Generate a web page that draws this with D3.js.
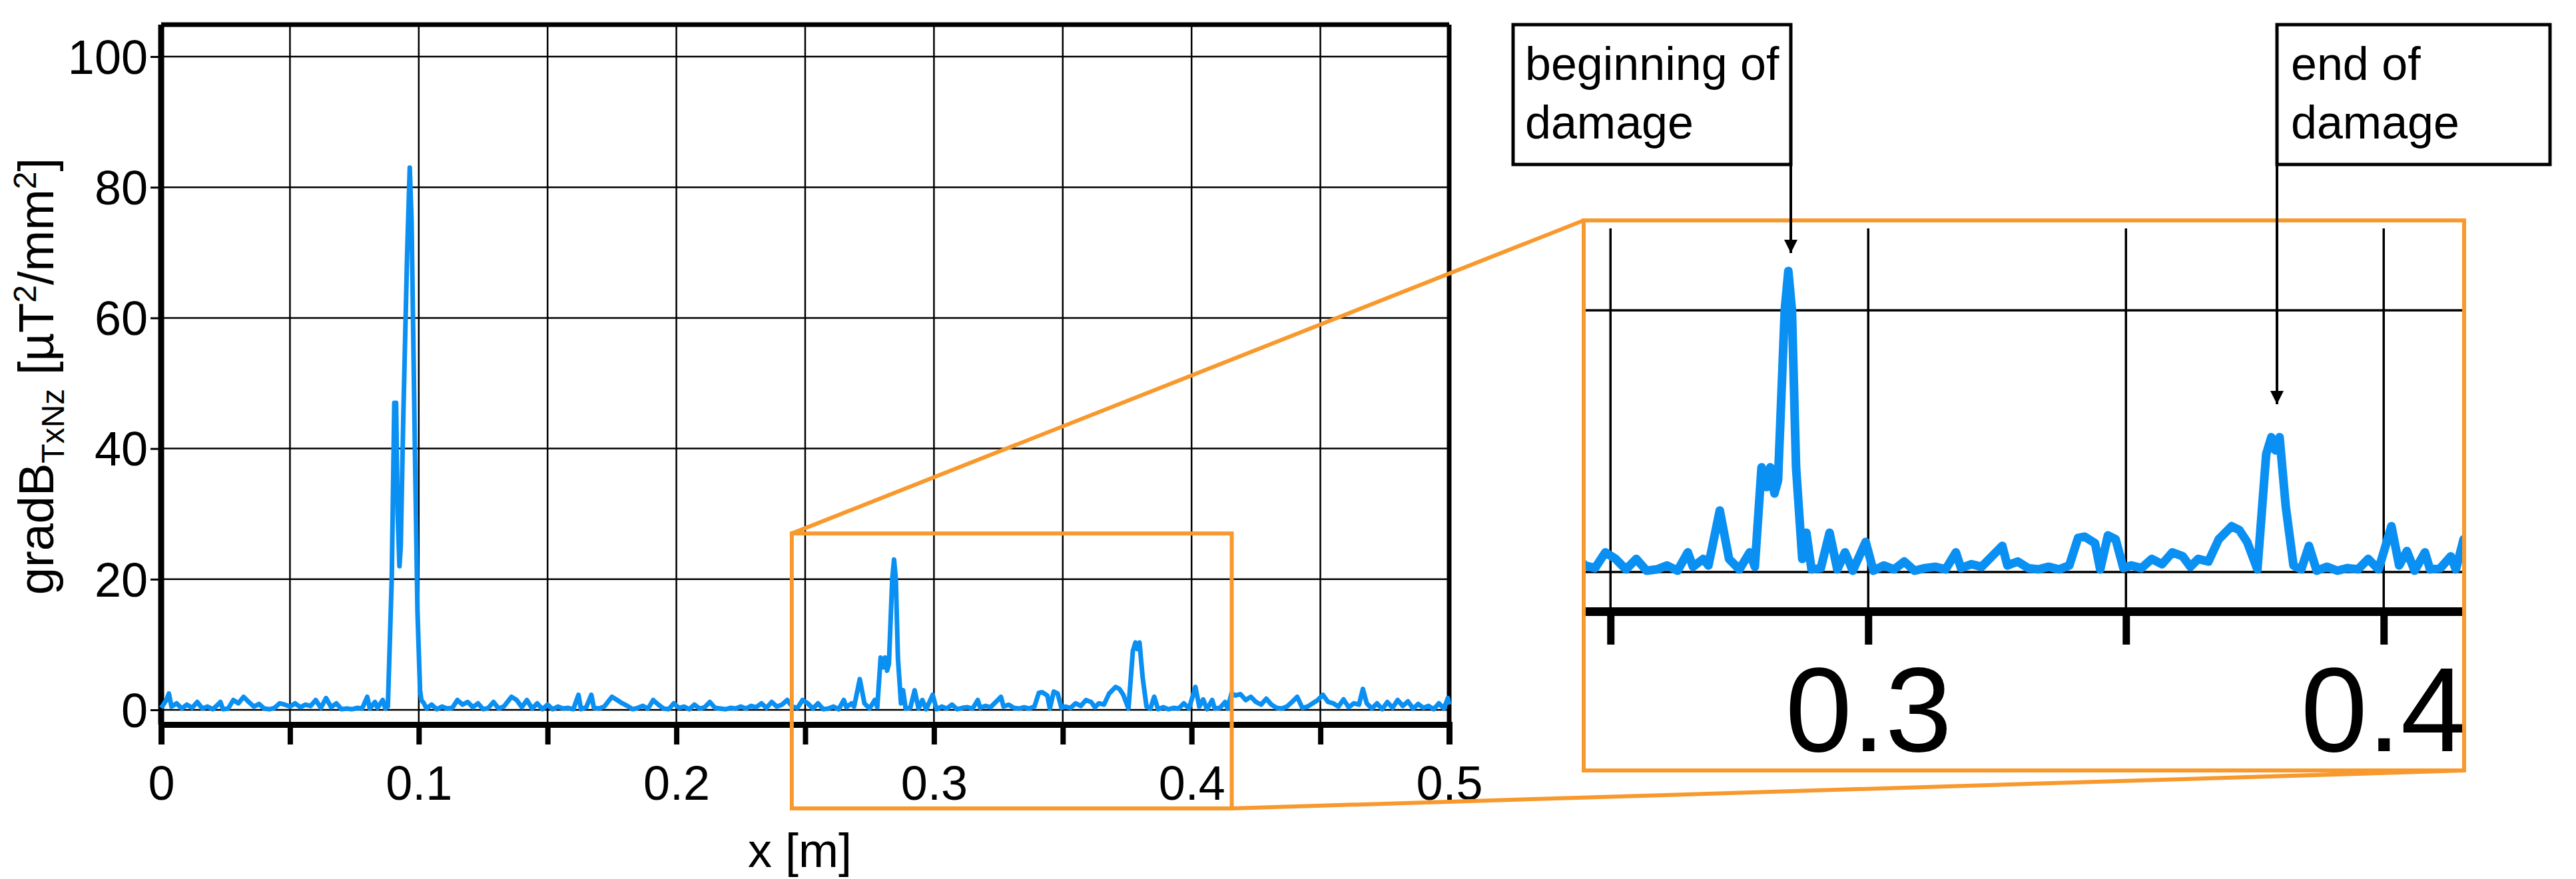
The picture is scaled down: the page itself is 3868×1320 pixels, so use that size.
<!DOCTYPE html>
<html><head><meta charset="utf-8">
<script src="https://cdn.jsdelivr.net/npm/d3@7"></script>
<style>body{margin:0;background:#fff}</style>
</head><body>
<svg id="c" width="3868" height="1320"></svg>
<script>
const xTicks = [0,0.1,0.2,0.3,0.4,0.5];
const xGrid = [0,0.05,0.1,0.15,0.2,0.25,0.3,0.35,0.4,0.45,0.5];
const yTicks = [0,20,40,60,80,100];
const insetTicks = [0.25,0.3,0.35,0.4];
const insetLabels = [0.3,0.4];
const insetGridY = [0,20];
const zoomRange = [0.2448,0.4156];
const zoomTop = 27;
const annotations = [
  {lines:["beginning of","damage"], x:0.2845},
  {lines:["end of","damage"], x:0.3795}
];
const profile = [[0,0.3],[0.002,1.5],[0.003,2.5],[0.004,0.5],[0.006,1],[0.008,0.2],[0.01,0.8],[0.012,0.3],[0.014,1.2],[0.016,0.2],[0.018,0.5],[0.02,0.1],[0.022,0.8],[0.023,1.2],[0.024,0.1],[0.026,0.2],[0.028,1.5],[0.03,1],[0.032,2],[0.034,1.2],[0.036,0.5],[0.038,0.9],[0.04,0.2],[0.042,0.1],[0.044,0.3],[0.046,1],[0.048,0.8],[0.05,0.5],[0.052,1],[0.054,0.4],[0.056,0.8],[0.058,0.6],[0.06,1.5],[0.062,0.3],[0.064,1.8],[0.066,0.4],[0.068,1],[0.07,0.1],[0.072,0.2],[0.074,0.1],[0.076,0.3],[0.078,0.2],[0.08,2],[0.081,0.2],[0.083,1.2],[0.084,0.3],[0.086,1.5],[0.087,0.2],[0.088,0.5],
[0.0895,20],[0.0905,47],[0.0912,47],[0.0918,30],[0.0925,22],[0.093,25],[0.094,45],[0.0955,70],[0.0965,83],[0.0972,75],[0.0985,40],[0.0995,15],[0.1005,3],[0.101,1.5],[0.102,1],[0.103,0.2],[0.105,0.8],[0.107,0.1],
[0.109,0.5],[0.111,0.2],[0.113,0.3],[0.115,1.5],[0.117,0.8],[0.119,1.2],[0.121,0.4],[0.123,1],[0.125,0.1],[0.127,0.3],[0.129,1.2],[0.131,0.2],[0.133,0.5],[0.136,2],[0.138,1.5],[0.14,0.4],[0.142,1.5],[0.144,0.2],[0.146,1],[0.148,0.1],[0.15,0.8],[0.152,0.1],[0.154,0.5],[0.156,0.2],[0.158,0.3],[0.16,0.1],[0.162,2.3],[0.163,0.1],[0.165,0.4],[0.167,2.3],[0.168,0.3],[0.17,0.2],[0.172,0.5],[0.175,2],[0.177,1.5],[0.179,1],[0.181,0.6],[0.183,0.1],[0.185,0.3],[0.187,0.6],[0.189,0.2],[0.191,1.5],[0.193,0.8],[0.195,0.2],[0.197,0.1],[0.199,1],[0.201,0.3],[0.203,0.5],[0.205,0.1],[0.207,0.8],[0.209,0.2],[0.211,0.4],[0.213,1.2],[0.215,0.3],[0.217,0.2],[0.219,0.1],[0.221,0.3],[0.223,0.2],[0.225,0.5],[0.227,0.2],[0.229,0.6],[0.231,0.4],[0.233,1],[0.235,0.3],[0.237,1.2],[0.239,0.5],[0.241,0.8],[0.243,1.5],[0.245,0.5],
[0.247,0.3],[0.249,1.5],[0.251,1],[0.253,0.2],[0.255,1],[0.257,0.1],[0.259,0.2],[0.261,0.5],[0.263,0.1],[0.265,1.5],[0.266,0.4],[0.268,1],[0.269,0.5],[0.2712,4.7],[0.273,1],[0.275,0.2],[0.277,1.5],[0.278,0.4],[0.2793,8],[0.2803,6.5],[0.281,8],[0.2818,6],[0.2825,7],[0.2838,20],[0.2845,23],[0.2852,20],[0.286,8],[0.2872,1],[0.288,3],[0.289,0.2],[0.2908,0.3],[0.2925,3],[0.294,0.2],[0.2955,1.5],[0.297,0.1],[0.2995,2.3],[0.301,0.1],[0.303,0.5],[0.305,0.2],[0.307,0.8],[0.309,0.1],[0.311,0.3],[0.313,0.4],[0.315,0.2],[0.317,1.5],[0.318,0.3],[0.32,0.6],[0.322,0.4],[0.324,1.2],[0.326,2],[0.327,0.5],[0.329,0.8],[0.331,0.3],[0.333,0.2],[0.335,0.4],[0.337,0.2],[0.339,0.5],[0.3407,2.6],[0.342,2.7],[0.344,2.2],[0.345,0.2],[0.3465,2.8],[0.348,2.5],[0.3495,0.3],[0.351,0.5],[0.353,0.3],[0.355,1],[0.357,0.6],[0.359,1.5],[0.361,1.2],[0.3625,0.4],[0.364,1],[0.366,0.8],[0.368,2.5],[0.3705,3.5],[0.372,3.2],[0.3735,2.3],[0.3755,0.2],[0.3772,9],[0.3782,10.3],[0.379,9.3],[0.3798,10.3],[0.381,5],[0.3825,0.5],[0.384,0.2],[0.3855,2],[0.387,0.1],[0.389,0.4],[0.391,0.1],[0.393,0.3],[0.395,0.2],[0.397,1],[0.399,0.2],[0.4015,3.5],[0.403,0.5],[0.4045,1.6],[0.406,0.1],[0.408,1.5],[0.409,0.2],[0.411,0.3],[0.413,1.2],[0.414,0.2],[0.4155,2.5],[0.417,2.2],[0.419,2.4],[0.421,1.5],[0.423,2],[0.425,1.2],[0.427,0.8],[0.429,1.7],[0.431,0.8],[0.433,0.3],[0.435,0.2],[0.437,0.5],[0.439,1.2],[0.441,2],[0.443,0.3],[0.445,0.5],[0.447,1],[0.449,1.5],[0.451,2.3],[0.453,1.2],[0.455,1],[0.457,0.5],[0.459,1.6],[0.461,0.4],[0.463,1],[0.465,0.8],[0.4665,3.2],[0.468,1],[0.47,0.2],[0.472,1],[0.474,0.1],[0.476,1.2],[0.478,0.3],[0.48,1.5],[0.482,0.6],[0.484,1.3],[0.486,0.2],[0.488,0.9],[0.49,0.3],[0.492,0.6],[0.494,0.1],[0.496,1],[0.498,0.2],[0.4995,1.8],[0.5,0.8]];

const svg = d3.select("#c");
const BLUE="#0a8ff2", ORANGE="#f8992e";
const font="Liberation Sans, Arial, sans-serif";
const narrow="'Liberation Sans Narrow', 'Liberation Sans', sans-serif";

// main
const L=242,R=2176,T=37,B=1088;
const x=d3.scaleLinear().domain([0,0.5]).range([L,R]);
const y=d3.scaleLinear().domain([0,100]).range([1066,85]);
const g=svg.append("g");
g.selectAll(".vg").data(xGrid).join("line").attr("x1",d=>x(d)).attr("x2",d=>x(d)).attr("y1",T).attr("y2",B).attr("stroke","#000").attr("stroke-width",2.5);
g.selectAll(".hg").data(yTicks).join("line").attr("x1",L).attr("x2",R).attr("y1",d=>y(d)).attr("y2",d=>y(d)).attr("stroke","#000").attr("stroke-width",2.5);
const xa=g.append("g").attr("transform",`translate(0,${B})`).call(d3.axisBottom(x).tickValues(xGrid).tickSize(30).tickFormat(d=>xTicks.some(t=>Math.abs(t-d)<1e-9)?d3.format("")(+d.toFixed(2)):""));
xa.select(".domain").attr("stroke-width",9);
xa.selectAll(".tick line").attr("stroke-width",8);
xa.selectAll("text").attr("font-family",font).attr("font-size",72).attr("dy","0.71em").attr("y",62).attr("fill","#000");
const ya=g.append("g").attr("transform",`translate(${L},0)`).call(d3.axisLeft(y).tickValues(yTicks).tickSize(16).tickSizeOuter(0));
ya.select(".domain").attr("d",`M0,${T}V${B}`).attr("stroke-width",9);
ya.selectAll(".tick line").attr("stroke-width",3);
ya.selectAll("text").attr("font-family",font).attr("font-size",72).attr("x",-20).attr("dy","0.35em").attr("fill","#000");
g.append("line").attr("x1",L).attr("x2",R).attr("y1",T).attr("y2",T).attr("stroke","#000").attr("stroke-width",7);
g.append("line").attr("x1",R).attr("x2",R).attr("y1",T).attr("y2",B).attr("stroke","#000").attr("stroke-width",7);

const line=d3.line().x(d=>x(d[0])).y(d=>y(d[1]));
g.append("path").datum(profile).attr("d",line).attr("fill","none").attr("stroke",BLUE).attr("stroke-width",7).attr("stroke-linejoin","round");

g.append("text").attr("x",x(0.25)-8).attr("y",1302).attr("text-anchor","middle").attr("font-family",font).attr("font-size",72).text("x [m]");
const yl=g.append("text").attr("transform","translate(80,565) rotate(-90)").attr("text-anchor","middle").attr("font-family",font).attr("font-size",74);
yl.append("tspan").text("gradB");
yl.append("tspan").attr("font-size",48).attr("dy",16).text("TxNz");
yl.append("tspan").attr("dy",-16).text(" [µT");
yl.append("tspan").attr("font-size",48).attr("dy",-26).text("2");
yl.append("tspan").attr("dy",26).text("/mm");
yl.append("tspan").attr("font-size",48).attr("dy",-26).text("2");
yl.append("tspan").attr("dy",26).text("]");

// inset
const IL=2378,IR=3700,IT=331,IB=1157;
const xi=d3.scaleLinear().domain(zoomRange).range([IL,IR]);
const yi=d3.scaleLinear().domain([0,20]).range([859,466]);
const axisY=918;
const ig=svg.append("g");
ig.append("clipPath").attr("id","ic").append("rect").attr("x",IL).attr("y",IT).attr("width",IR-IL).attr("height",axisY-IT);
ig.selectAll(".ivg").data(insetTicks).join("line").attr("x1",d=>xi(d)).attr("x2",d=>xi(d)).attr("y1",IT+12).attr("y2",axisY).attr("stroke","#000").attr("stroke-width",3.5);
ig.selectAll(".ihg").data(insetGridY).join("line").attr("x1",IL).attr("x2",IR).attr("y1",d=>yi(d)).attr("y2",d=>yi(d)).attr("stroke","#000").attr("stroke-width",3.5);
const ixa=ig.append("g").attr("transform",`translate(0,${axisY})`).call(d3.axisBottom(xi).tickValues(insetTicks).tickSize(50).tickSizeOuter(0).tickFormat(d=>insetLabels.includes(d)?d3.format(".1f")(d):""));
ixa.select(".domain").attr("stroke-width",13);
ixa.selectAll(".tick line").attr("stroke-width",11);
ixa.selectAll("text").attr("font-family",narrow).attr("font-size",180).attr("y",82).attr("dy","0.71em").attr("fill","#000");
const linei=d3.line().x(d=>xi(d[0])).y(d=>yi(d[1]));
ig.append("path").datum(profile.filter(d=>d[0]>=zoomRange[0]-0.002&&d[0]<=zoomRange[1]+0.002)).attr("clip-path","url(#ic)").attr("d",linei).attr("fill","none").attr("stroke",BLUE).attr("stroke-width",13).attr("stroke-linejoin","round");

// orange zoom box and connectors
const zL=x(zoomRange[0]),zR=x(zoomRange[1]),zT=y(zoomTop),zB=1214;
svg.append("rect").attr("x",zL).attr("y",zT).attr("width",zR-zL).attr("height",zB-zT).attr("fill","none").attr("stroke",ORANGE).attr("stroke-width",6);
svg.append("rect").attr("x",IL).attr("y",IT).attr("width",IR-IL).attr("height",IB-IT).attr("fill","none").attr("stroke",ORANGE).attr("stroke-width",6);
svg.append("line").attr("x1",zL).attr("y1",zT).attr("x2",IL).attr("y2",IT).attr("stroke",ORANGE).attr("stroke-width",6);
svg.append("line").attr("x1",zR).attr("y1",zB).attr("x2",IR).attr("y2",IB).attr("stroke",ORANGE).attr("stroke-width",6);

// annotations
const boxes=[{x0:2272,x1:2689,ax:2689,tip:380,tx:2290},{x0:3419,x1:3829,ax:3419,tip:607,tx:3440}];
svg.append("defs").append("marker").attr("id","ar").attr("viewBox","0 0 10 10").attr("refX",10).attr("refY",5).attr("markerWidth",5).attr("markerHeight",5).attr("orient","auto").append("path").attr("d","M0,0L10,5L0,10z").attr("fill","#000");
annotations.forEach((a,i)=>{
  const b=boxes[i];
  svg.append("rect").attr("x",b.x0).attr("y",37).attr("width",b.x1-b.x0).attr("height",210).attr("fill","#fff").attr("stroke","#000").attr("stroke-width",5);
  a.lines.forEach((t,j)=>svg.append("text").attr("x",b.tx).attr("y",120+j*88).attr("font-family",narrow).attr("font-size",70).text(t));
  svg.append("line").attr("x1",b.ax).attr("x2",b.ax).attr("y1",247).attr("y2",b.tip).attr("stroke","#000").attr("stroke-width",4).attr("marker-end","url(#ar)");
});
</script>
</body></html>
